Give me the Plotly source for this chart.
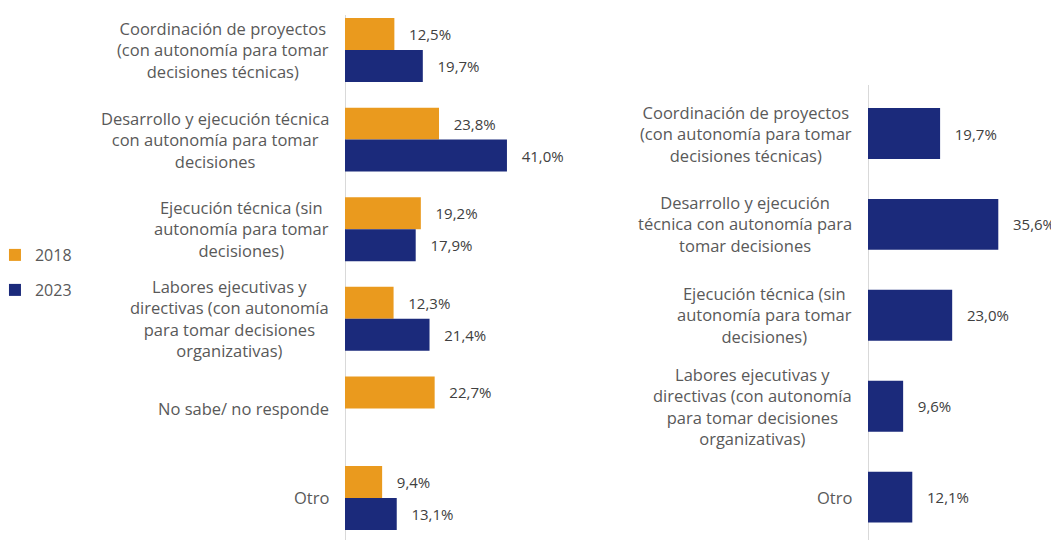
import plotly.graph_objects as go

# left panel: 2018 vs 2023
cats_left = [
    "Coordinación de proyectos<br>(con autonomía para tomar<br>decisiones técnicas)",
    "Desarrollo y ejecución técnica<br>con autonomía para tomar<br>decisiones",
    "Ejecución técnica (sin<br>autonomía para tomar<br>decisiones)",
    "Labores ejecutivas y<br>directivas (con autonomía<br>para tomar decisiones<br>organizativas)",
    "No sabe/ no responde",
    "Otro",
]
vals_2018 = [12.5, 23.8, 19.2, 12.3, 22.7, 9.4]
vals_2023 = [19.7, 41.0, 17.9, 21.4, None, 13.1]

# right panel: 2023 only
cats_right = [
    "Coordinación de proyectos<br>(con autonomía para tomar<br>decisiones técnicas)",
    "Desarrollo y ejecución<br>técnica con autonomía para<br>tomar decisiones",
    "Ejecución técnica (sin<br>autonomía para tomar<br>decisiones)",
    "Labores ejecutivas y<br>directivas (con autonomía<br>para tomar decisiones<br>organizativas)",
    "Otro",
]
vals_right = [19.7, 35.6, 23.0, 9.6, 12.1]

ORANGE = "#EA9A1E"
NAVY = "#1B2A7B"
FONT = "Open Sans"

# the page body has an 8px margin, so the figure is sized to fit the window
OFF = 8
W, H = 1059 - OFF, 540 - OFF


def px(x):
    return (x - OFF) / W


def py(y):
    return 1 - (y - OFF) / H


txt = "\u00a0\u00a0\u00a0%{x:.1f}%"
tfont = dict(family=FONT, size=15, color="#404040")

fig = go.Figure()
fig.add_trace(go.Bar(
    y=cats_left, x=vals_2018, orientation="h", name="2018",
    marker=dict(color=ORANGE, line=dict(width=0)),
    texttemplate=txt, textposition="outside", textfont=tfont,
    xaxis="x", yaxis="y", legend="legend", cliponaxis=False,
))
fig.add_trace(go.Bar(
    y=cats_left, x=vals_2023, orientation="h", name="2023",
    marker=dict(color=NAVY, line=dict(width=0)),
    texttemplate=txt, textposition="outside", textfont=tfont,
    xaxis="x", yaxis="y", legend="legend2", cliponaxis=False,
))
fig.add_trace(go.Bar(
    y=cats_right, x=vals_right, orientation="h", name="2023",
    marker=dict(color=NAVY, line=dict(width=0)), width=0.56,
    texttemplate=txt, textposition="outside", textfont=tfont,
    xaxis="x2", yaxis="y2", showlegend=False, cliponaxis=False,
))

# category labels, centred text block right-aligned to the axis
lab_font = dict(family=FONT, size=16.5, color="#595959")
annos = []
for c in cats_left:
    annos.append(dict(x=px(331), xref="paper", y=c, yref="y", text=c,
                      xanchor="right", align="center", showarrow=False,
                      font=lab_font))
for c in cats_right:
    annos.append(dict(x=px(854), xref="paper", y=c, yref="y2", text=c,
                      xanchor="right", align="center", showarrow=False,
                      font=lab_font))

noaxis = dict(showgrid=False, zeroline=False, showticklabels=False, showline=False)

fig.update_layout(
    width=W, height=H,
    margin=dict(l=0, r=0, t=0, b=0, autoexpand=False),
    paper_bgcolor="white", plot_bgcolor="white",
    barmode="group", bargap=0.286, bargroupgap=0,
    separators=",.",
    xaxis=dict(domain=[px(345), px(345 + 60 * 3.95)], range=[0, 60], **noaxis),
    yaxis=dict(domain=[0, 1], range=[5.469, -0.469], type="category", **noaxis),
    xaxis2=dict(domain=[px(868), px(1051)], range=[0, 50], anchor="y2", **noaxis),
    yaxis2=dict(domain=[0, 1], range=[4.472, -1.381], type="category", anchor="x2", **noaxis),
    legend=dict(x=-0.0124, y=py(255), xanchor="left", yanchor="middle",
                font=dict(family=FONT, size=16, color="#595959"),
                bgcolor="rgba(0,0,0,0)", itemwidth=30),
    legend2=dict(x=-0.0124, y=py(290), xanchor="left", yanchor="middle",
                 font=dict(family=FONT, size=16, color="#595959"),
                 bgcolor="rgba(0,0,0,0)", itemwidth=30),
    annotations=annos,
    shapes=[
        dict(type="line", xref="x", x0=0, x1=0, yref="paper", y0=0, y1=py(15),
             line=dict(color="#D9D9D9", width=2), layer="below"),
        dict(type="line", xref="x2", x0=0, x1=0, yref="paper", y0=0, y1=py(85),
             line=dict(color="#D9D9D9", width=2), layer="below"),
    ],
    font=dict(family=FONT),
)
fig.update_traces(constraintext="none")

fig.write_html("out.html")
